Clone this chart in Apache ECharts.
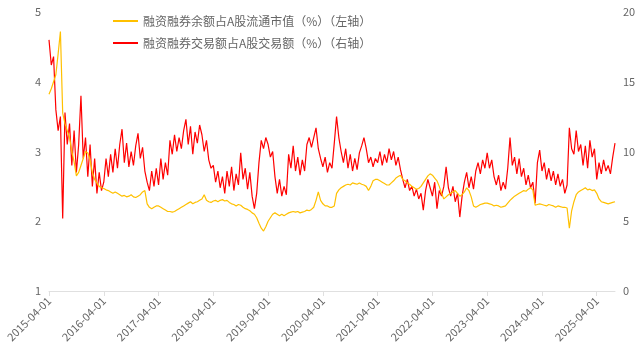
<!DOCTYPE html>
<html>
<head>
<meta charset="utf-8">
<script src="https://cdn.jsdelivr.net/npm/echarts@6/dist/echarts.min.js"></script>
<style>html,body{margin:0;padding:0;background:#fff;}#main{width:640px;height:356px;}</style>
</head>
<body>
<div id="main"></div>
<script>
// Semi-monthly dates (1st and 16th) from 2015-04-01 to 2025-08-01
const startYear = 2015, startMonth = 4, pointCount = 249;
const categories = [];
(function(){
  let y = startYear, m = startMonth, half = 0;
  for (let k = 0; k < pointCount; k++) {
    categories.push(y + '-' + String(m).padStart(2,'0') + '-' + (half ? '16' : '01'));
    if (half) { half = 0; m++; if (m > 12) { m = 1; y++; } } else { half = 1; }
  }
})();

const seriesNames = ['融资融券余额占A股流通市值（%）（左轴）', '融资融券交易额占A股交易额（%）（右轴）'];

// Margin balance / A-share float market cap (%), left axis
const balanceShare = [
  3.82,3.90,4.00,4.10,4.40,4.72,3.55,3.40,3.30,3.20,3.00,2.85,2.65,2.70,2.80,2.90,3.00,2.98,2.88,2.70,2.60,2.55,2.50,2.48,
  2.47,2.45,2.44,2.42,2.40,2.42,2.40,2.38,2.36,2.37,2.35,2.36,2.38,2.35,2.34,2.36,2.38,2.42,2.44,2.25,2.20,2.18,2.20,2.22,
  2.22,2.20,2.18,2.16,2.14,2.14,2.13,2.14,2.16,2.18,2.20,2.22,2.24,2.26,2.28,2.25,2.27,2.28,2.30,2.32,2.38,2.30,2.28,2.27,
  2.29,2.30,2.28,2.30,2.31,2.29,2.30,2.27,2.25,2.24,2.22,2.24,2.23,2.20,2.18,2.17,2.15,2.12,2.10,2.05,1.97,1.90,1.86,1.92,
  2.00,2.05,2.10,2.12,2.10,2.08,2.10,2.08,2.10,2.12,2.13,2.14,2.13,2.14,2.12,2.13,2.14,2.16,2.15,2.17,2.20,2.30,2.42,2.30,
  2.25,2.22,2.22,2.20,2.20,2.22,2.40,2.45,2.48,2.50,2.52,2.53,2.52,2.55,2.54,2.53,2.55,2.53,2.52,2.50,2.44,2.50,2.58,2.60,
  2.60,2.58,2.56,2.54,2.52,2.52,2.55,2.58,2.62,2.64,2.66,2.60,2.58,2.55,2.53,2.50,2.48,2.46,2.47,2.50,2.55,2.60,2.65,2.68,
  2.66,2.62,2.58,2.50,2.40,2.32,2.35,2.38,2.40,2.42,2.44,2.40,2.36,2.38,2.42,2.48,2.44,2.35,2.22,2.20,2.22,2.24,2.25,2.26,
  2.26,2.25,2.24,2.22,2.23,2.22,2.20,2.21,2.22,2.26,2.30,2.33,2.36,2.38,2.40,2.42,2.44,2.43,2.46,2.48,2.45,2.23,2.24,2.25,
  2.24,2.23,2.22,2.24,2.23,2.22,2.20,2.22,2.21,2.20,2.20,2.19,1.90,2.15,2.28,2.38,2.42,2.44,2.46,2.48,2.45,2.46,2.44,2.45,
  2.40,2.32,2.28,2.27,2.26,2.25,2.26,2.27,2.28
];

// Margin trading turnover / A-share turnover (%), right axis
const turnoverShare = [
  18.0,16.2,16.8,13.0,11.5,12.5,5.2,12.8,10.5,12.0,9.0,11.5,8.5,10.5,14.0,9.5,11.0,8.2,10.5,7.5,9.5,7.0,8.5,7.2,
  7.8,9.5,8.2,9.8,8.5,10.2,8.8,10.5,11.6,9.2,10.6,8.9,10.0,9.0,10.4,11.3,9.5,10.3,8.6,7.8,7.2,8.6,7.5,8.8,
  7.6,9.5,8.0,9.2,8.3,10.8,9.8,11.2,10.0,11.0,10.2,11.5,12.3,10.5,11.8,9.8,11.4,10.6,11.9,11.2,10.0,10.8,9.4,8.8,
  9.0,7.8,8.6,7.4,8.2,7.0,8.6,7.5,8.9,7.2,8.4,7.6,9.9,8.0,8.8,7.3,8.5,6.8,5.9,7.0,9.2,10.8,10.2,11.0,
  10.5,9.6,10.0,8.2,7.0,8.0,6.8,7.5,6.9,9.8,8.8,10.4,8.6,9.6,8.3,9.4,8.6,10.5,11.0,10.3,11.0,11.7,10.2,9.5,
  8.9,9.6,8.5,9.2,8.8,10.6,12.5,11.0,10.0,9.2,10.2,8.8,9.8,8.6,9.5,8.7,9.9,10.4,11.0,10.2,9.2,9.6,8.9,9.5,
  9.2,10.0,9.0,9.8,9.2,10.2,9.4,10.0,9.0,9.6,8.7,8.0,7.4,8.0,7.2,7.5,6.8,7.3,6.6,7.0,5.8,7.2,8.0,7.4,
  6.8,7.8,5.9,7.2,6.8,7.5,8.9,7.4,6.8,7.5,6.4,7.0,5.3,6.8,7.8,8.5,7.4,8.2,7.3,8.6,9.2,8.4,9.4,8.8,
  9.9,8.8,9.4,8.2,7.6,8.3,7.2,7.8,7.3,8.8,11.0,9.0,9.6,8.4,9.5,8.2,8.8,7.6,8.3,7.4,7.8,6.3,9.2,10.1,
  8.6,9.2,8.0,8.8,7.9,8.6,7.6,8.4,7.5,8.0,7.0,7.6,11.7,10.2,9.8,11.5,10.0,10.5,9.0,10.4,8.8,10.8,9.6,10.2,
  8.0,9.2,8.4,9.4,8.6,9.0,8.4,9.6,10.6
];

const leftTicks = { min: 1, max: 5, interval: 1 };
const rightTicks = { min: 0, max: 20, interval: 5 };

const isYearLabel = (idx, val) => /-04-01$/.test(val);

const chart = echarts.init(document.getElementById('main'), null, { renderer: 'canvas' });
chart.setOption({
  animation: false,
  backgroundColor: '#ffffff',
  textStyle: { fontFamily: '"Noto Sans CJK SC", "Noto Sans", sans-serif' },
  legend: {
    orient: 'vertical',
    left: 107,
    top: 10,
    itemWidth: 25,
    itemHeight: 14,
    itemGap: 10,
    itemStyle: { opacity: 0 },
    textStyle: { color: '#666', fontSize: 12 },
    data: seriesNames
  },
  grid: { left: 49, right: 25, top: 12, bottom: 65, containLabel: false },
  xAxis: {
    type: 'category',
    boundaryGap: false,
    data: categories,
    axisLine: { lineStyle: { color: '#e0e0e0' } },
    axisTick: { show: true, interval: isYearLabel, lineStyle: { color: '#e0e0e0' } },
    axisLabel: { interval: isYearLabel, rotate: 45, color: '#666', fontSize: 11, margin: 8 }
  },
  yAxis: [
    {
      type: 'value', position: 'left',
      min: leftTicks.min, max: leftTicks.max, interval: leftTicks.interval,
      axisLine: { show: false }, axisTick: { show: false }, splitLine: { show: false },
      axisLabel: { color: '#666', fontSize: 11 }
    },
    {
      type: 'value', position: 'right',
      min: rightTicks.min, max: rightTicks.max, interval: rightTicks.interval,
      axisLine: { show: false }, axisTick: { show: false }, splitLine: { show: false },
      axisLabel: { color: '#666', fontSize: 11 }
    }
  ],
  series: [
    {
      name: seriesNames[0], type: 'line', yAxisIndex: 0, data: balanceShare,
      symbol: 'none', showSymbol: false,
      lineStyle: { color: '#FFC000', width: 1.2 }, itemStyle: { color: '#FFC000' }, z: 3
    },
    {
      name: seriesNames[1], type: 'line', yAxisIndex: 1, data: turnoverShare,
      symbol: 'none', showSymbol: false,
      lineStyle: { color: '#FF0000', width: 1.2 }, itemStyle: { color: '#FF0000' }, z: 2
    }
  ]
});
</script>
</body>
</html>
